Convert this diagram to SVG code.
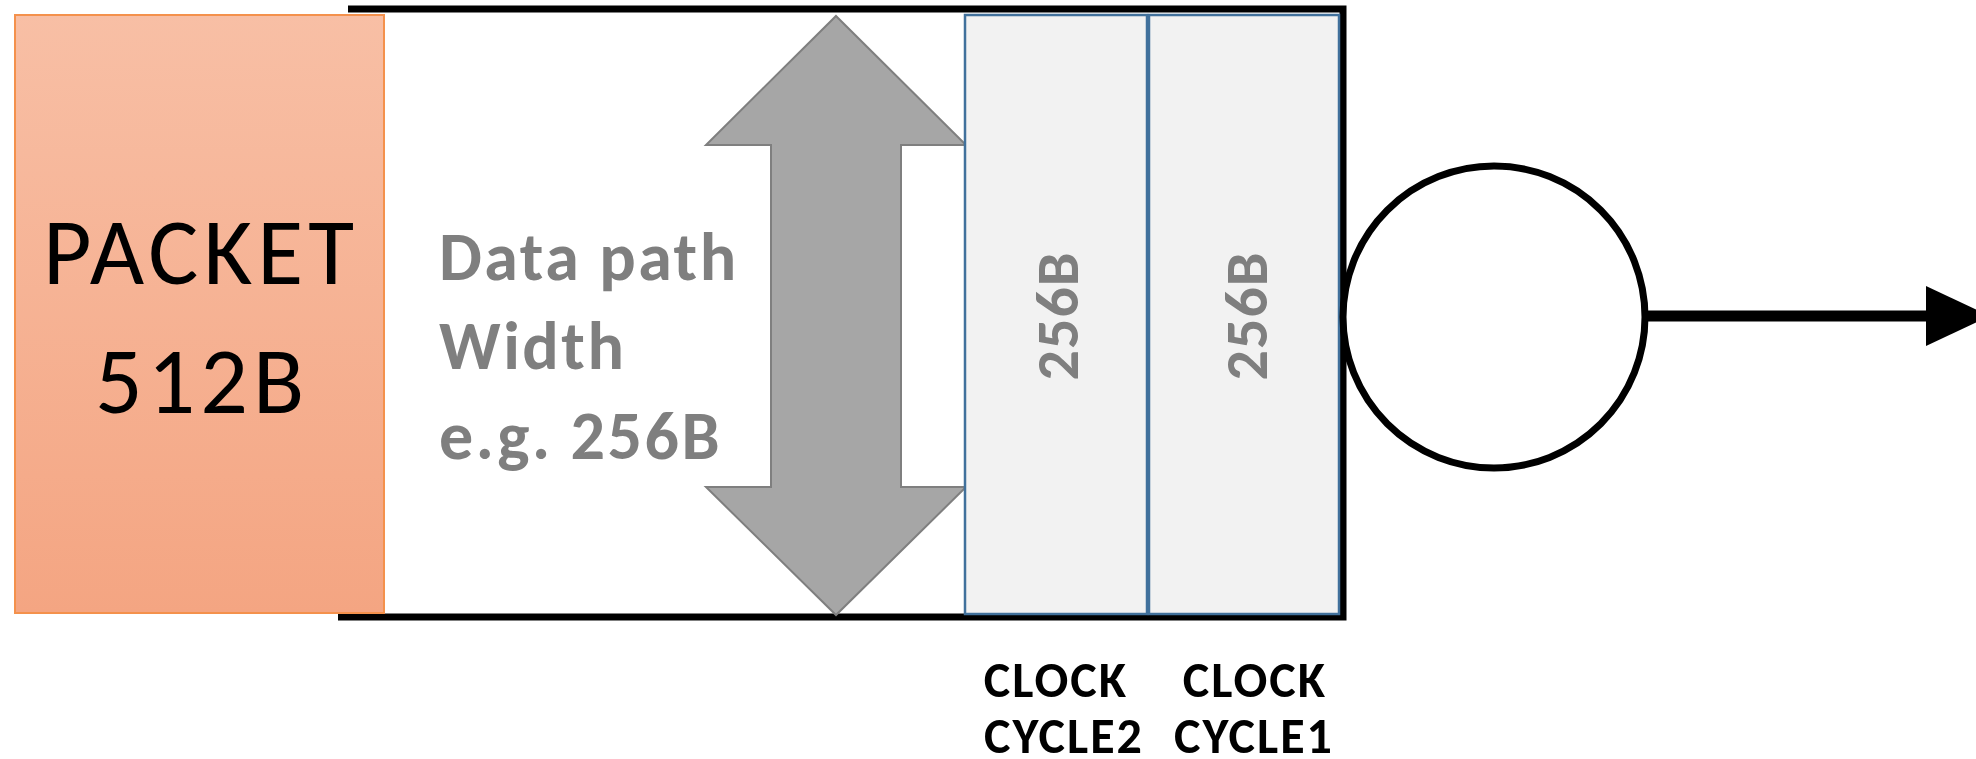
<svg xmlns="http://www.w3.org/2000/svg" width="1976" height="759" viewBox="0 0 1976 759">
  <style>
    .frame { fill: none; stroke: #000; stroke-width: 7; }
    .packet { fill: url(#packetFill); stroke: #F4914C; stroke-width: 2; }
    .packet-label { font-family: Carlito, Lato, "Liberation Sans", sans-serif; font-size: 94px; letter-spacing: 5px; fill: #000; text-anchor: middle; }
    .width-arrow { fill: #A6A6A6; stroke: #7F7F7F; stroke-width: 2; }
    .note { font-family: Carlito, Lato, "Liberation Sans", sans-serif; font-weight: bold; font-size: 68px; letter-spacing: 2.5px; fill: #7F7F7F; }
    .cell { fill: #F2F2F2; stroke: #41719C; stroke-width: 2.5; }
    .cell-label { font-family: Carlito, Lato, "Liberation Sans", sans-serif; font-weight: bold; font-size: 60px; letter-spacing: 1px; fill: #7F7F7F; text-anchor: middle; }
    .cycle-label { font-family: Carlito, Lato, "Liberation Sans", sans-serif; font-weight: bold; font-size: 50px; letter-spacing: 2px; fill: #000; text-anchor: middle; }
    .sink { fill: #fff; stroke: #000; stroke-width: 7; }
    .link { fill: none; stroke: #000; stroke-width: 11; }
  </style>
  <defs>
    <linearGradient id="packetFill" x1="0" y1="0" x2="0" y2="1">
      <stop offset="0" stop-color="#F8BFA5"/>
      <stop offset="1" stop-color="#F4A582"/>
    </linearGradient>
    <marker id="head" markerUnits="userSpaceOnUse" markerWidth="64" markerHeight="60" refX="0" refY="30" orient="auto">
      <path d="M0,0 L64,30 L0,60 Z" fill="#000"/>
    </marker>
  </defs>

  <!-- pipeline frame, open on the left -->
  <g id="frame">
    <path class="frame" d="M348,9 H1343 V617 H338"/>
  </g>

  <!-- incoming packet -->
  <g id="packet">
    <rect class="packet" x="15" y="15" width="369" height="598"/>
    <text class="packet-label" x="201" y="284">PACKET</text>
    <text class="packet-label" x="202" y="413">512B</text>
  </g>

  <!-- data path width annotation -->
  <g id="datapath">
    <polygon class="width-arrow" points="836,16 966,145 901,145 901,487 966,487 836,615 706,487 771,487 771,145 706,145"/>
    <text class="note" x="439" y="280">Data path</text>
    <text class="note" x="439" y="369">Width</text>
    <text class="note" x="439" y="459">e.g. 256B</text>
  </g>

  <!-- beats of the packet, one per clock cycle -->
  <g id="cycle2">
    <rect class="cell" x="965" y="15" width="182" height="599"/>
    <text class="cell-label" transform="translate(1078,316) rotate(-90)">256B</text>
    <text class="cycle-label" x="1056" y="697">CLOCK</text>
    <text class="cycle-label" x="1064" y="753">CYCLE2</text>
  </g>
  <g id="cycle1">
    <rect class="cell" x="1149" y="15" width="190" height="599"/>
    <text class="cell-label" transform="translate(1267,316) rotate(-90)">256B</text>
    <text class="cycle-label" x="1255" y="697">CLOCK</text>
    <text class="cycle-label" x="1254" y="753">CYCLE1</text>
  </g>

  <!-- output port -->
  <g id="port">
    <circle class="sink" cx="1494" cy="317" r="151"/>
  </g>

  <g id="connectors">
    <path class="link" d="M1645,316 H1926" marker-end="url(#head)"/>
  </g>
</svg>
